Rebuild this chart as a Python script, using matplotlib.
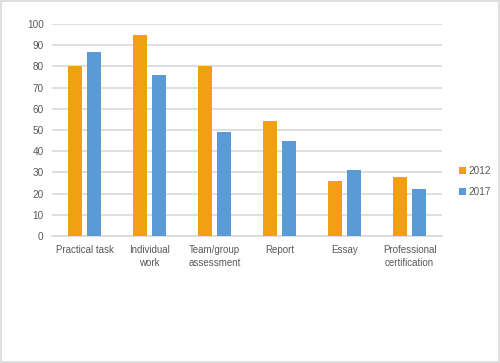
import matplotlib
matplotlib.use("Agg")
import matplotlib.pyplot as plt
import numpy as np
from matplotlib.patches import Rectangle

categories = ["Practical task", "Individual\nwork", "Team/group\nassessment", "Report", "Essay", "Professional\ncertification"]
series_names = ["2012", "2017"]
values_2012 = [80, 95, 80, 54, 26, 28]
values_2017 = [87, 76, 49, 45, 31, 22]
yticks = [0, 10, 20, 30, 40, 50, 60, 70, 80, 90, 100]

c2012 = "#F1A014"
c2017 = "#5B9BD5"
txt = "#595959"

plt.rcParams['font.family'] = ['Liberation Sans', 'DejaVu Sans']

fig = plt.figure(figsize=(5.0, 3.63), dpi=100)
ax = fig.add_axes([0.104, 0.35, 0.78, 0.584])

x = np.arange(len(categories))
w = 0.215
off = 0.142
ax.bar(x - off, values_2012, w, color=c2012, label=series_names[0], zorder=3)
ax.bar(x + off, values_2017, w, color=c2017, label=series_names[1], zorder=3)

ax.set_xlim(-0.5, len(categories) - 0.5)
ax.set_ylim(0, 100)
ax.set_yticks(yticks)
ax.set_xticks(x)
ax.set_xticklabels(categories, fontsize=7, color=txt, linespacing=1.35)
ax.tick_params(axis='y', labelsize=7.2, colors=txt, length=0, pad=6)
ax.tick_params(axis='x', length=0, pad=6.5)
ax.grid(axis='y', color='#D9D9D9', linewidth=1.2, zorder=0)
for s in ['top', 'right', 'left']:
    ax.spines[s].set_visible(False)
ax.spines['bottom'].set_color('#D9D9D9')
ax.spines['bottom'].set_linewidth(1.2)

leg = ax.legend(loc='center left', bbox_to_anchor=(1.02, 0.255), frameon=False,
                fontsize=7.2, handlelength=0.7, handleheight=0.7, handletextpad=0.3,
                labelspacing=1.1, labelcolor=txt)

fig.patches.append(Rectangle((0.002, 0.003), 0.996, 0.994, transform=fig.transFigure,
                             fill=False, edgecolor='#D9D9D9', linewidth=1.2))

fig.savefig("out.png", dpi=100)
